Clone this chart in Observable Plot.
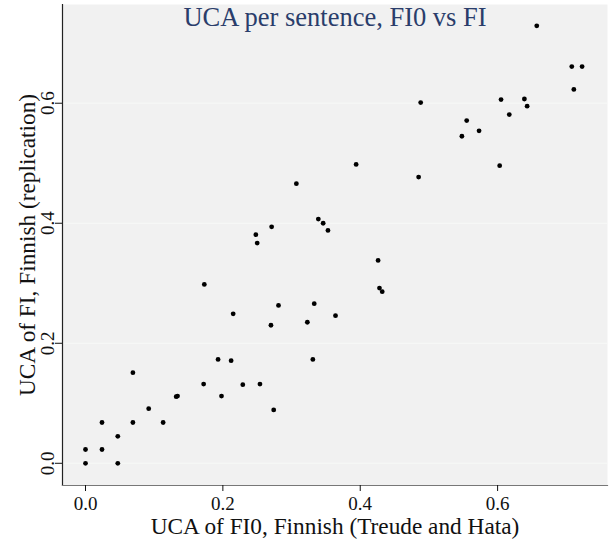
<!DOCTYPE html>
<html>
<head>
<meta charset="utf-8">
<script src="https://cdn.jsdelivr.net/npm/d3@7"></script>
<script src="https://cdn.jsdelivr.net/npm/@observablehq/plot@0.6"></script>
<style>
  html, body { margin: 0; padding: 0; background: #ffffff; }
  #chart svg { display: block; }
</style>
</head>
<body>
<div id="chart"></div>
<script>
const title = "UCA per sentence, FI0 vs FI";
const xLabel = "UCA of FI0, Finnish (Treude and Hata)";
const yLabel = "UCA of FI, Finnish (replication)";
const xTicks = [0, 0.2, 0.4, 0.6];
const yTicks = [0, 0.2, 0.4, 0.6];

const ucaFI0 = [
  0.307, 0.248, 0.250, 0.271, 0.339, 0.346, 0.353,
  0.657, 0.708, 0.723, 0.711, 0.488, 0.605, 0.639, 0.643, 0.617, 0.555, 0.573, 0.548, 0.394, 0.603, 0.485,
  0.173, 0.215, 0.281, 0.270, 0.333, 0.323, 0.364, 0.331, 0.193, 0.212, 0.172, 0.229, 0.254, 0.198, 0.274,
  0.132, 0.134, 0.069, 0.092, 0.113, 0.024, 0.069, 0.047, 0.000, 0.024, 0.000, 0.047,
  0.426, 0.428, 0.432
];
const ucaFI = [
  0.466, 0.381, 0.367, 0.394, 0.407, 0.400, 0.388,
  0.729, 0.661, 0.661, 0.623, 0.601, 0.606, 0.607, 0.595, 0.581, 0.571, 0.554, 0.545, 0.498, 0.496, 0.477,
  0.298, 0.249, 0.263, 0.230, 0.266, 0.235, 0.246, 0.173, 0.173, 0.171, 0.132, 0.131, 0.132, 0.112, 0.089,
  0.111, 0.112, 0.151, 0.091, 0.068, 0.068, 0.068, 0.045, 0.023, 0.023, 0.000, 0.000,
  0.338, 0.292, 0.286
];

const points = ucaFI0.map((x, i) => ({x, y: ucaFI[i]}));

const serif = "'Liberation Serif', 'Times New Roman', serif";

const chart = Plot.plot({
  width: 610,
  height: 540,
  marginLeft: 62,
  marginRight: 3,
  marginTop: 4,
  marginBottom: 55,
  style: {fontFamily: serif, background: "#ffffff"},
  x: {domain: [-0.0335, 0.760]},
  y: {domain: [-0.037, 0.7645]},
  marks: [
    Plot.frame({fill: "#f1f1f1", stroke: null}),
    Plot.gridY(yTicks, {stroke: "#f7f9f7", strokeOpacity: 1}),
    Plot.frame({anchor: "left", stroke: "#222222", strokeWidth: 1.2}),
    Plot.frame({anchor: "bottom", stroke: "#777777", strokeWidth: 1.2}),
    Plot.axisX({ticks: xTicks, tickFormat: d => d.toFixed(1), tickSize: 6, tickPadding: 5, fontSize: 19, color: "#111", label: null}),
    Plot.axisY({ticks: yTicks, tickFormat: d => d.toFixed(1), tickSize: 7, tickPadding: 2, tickRotate: -90, fontSize: 19, color: "#111", label: null}),
    Plot.dot(points, {x: "x", y: "y", r: 2.4, fill: "#000000", stroke: null}),
    Plot.text([title], {frameAnchor: "top", lineAnchor: "bottom", dy: 21, fontSize: 26.5, fill: "#2a3d6b", fontFamily: serif}),
    Plot.text([xLabel], {frameAnchor: "bottom", lineAnchor: "bottom", dy: 48, fontSize: 23.3, fill: "#111", fontFamily: serif}),
    Plot.text([yLabel], {frameAnchor: "left", textAnchor: "middle", lineAnchor: "bottom", rotate: -90, dx: -28, fontSize: 23.3, fill: "#111", fontFamily: serif})
  ]
});

document.getElementById("chart").appendChild(chart);
</script>
</body>
</html>
